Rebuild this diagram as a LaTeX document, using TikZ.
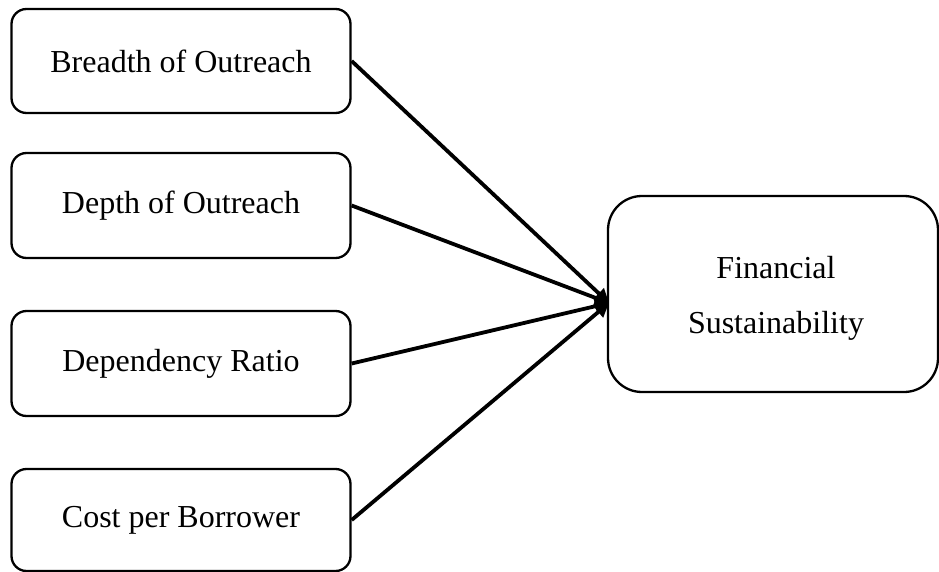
\documentclass[tikz,border=0pt]{standalone}
\usepackage{fontspec}
\setmainfont{Liberation Serif}
\usetikzlibrary{arrows.meta}
\begin{document}
\begin{tikzpicture}[x=1pt,y=-1pt,
  leftbox/.style={draw=black, line width=2.3pt, rounded corners=15pt, minimum width=339pt, inner sep=0pt, font=\fontsize{32}{38}\selectfont},
  rightbox/.style={draw=black, line width=2.3pt, rounded corners=34pt, minimum width=330pt, minimum height=196pt, inner sep=0pt, align=center, font=\fontsize{32}{55}\selectfont},
  conn/.style={line width=3.8pt, -{Triangle[length=14pt,width=14pt]}}]
\useasboundingbox (0,0) rectangle (939,572);
\node[leftbox, minimum height=104pt] (b1) at (181,61) {Breadth of Outreach};
\node[leftbox, minimum height=105pt] (b2) at (181,205.5) {Depth of Outreach};
\node[leftbox, minimum height=105pt] (b3) at (181,363.5) {Dependency Ratio};
\node[leftbox, minimum height=102pt] (b4) at (181,520) {Cost per Borrower};
\node[rightbox] (fs) at (773,294) {};
\node[font=\fontsize{32}{55}\selectfont, align=center, inner sep=0pt] (fst) at (776,298) {Financial\\Sustainability};
\coordinate (tip) at (609,303);
\draw[conn] (b1.east) -- (tip);
\draw[conn] (b2.east) -- (tip);
\draw[conn] (b3.east) -- (tip);
\draw[conn] (b4.east) -- (tip);
\end{tikzpicture}
\end{document}
